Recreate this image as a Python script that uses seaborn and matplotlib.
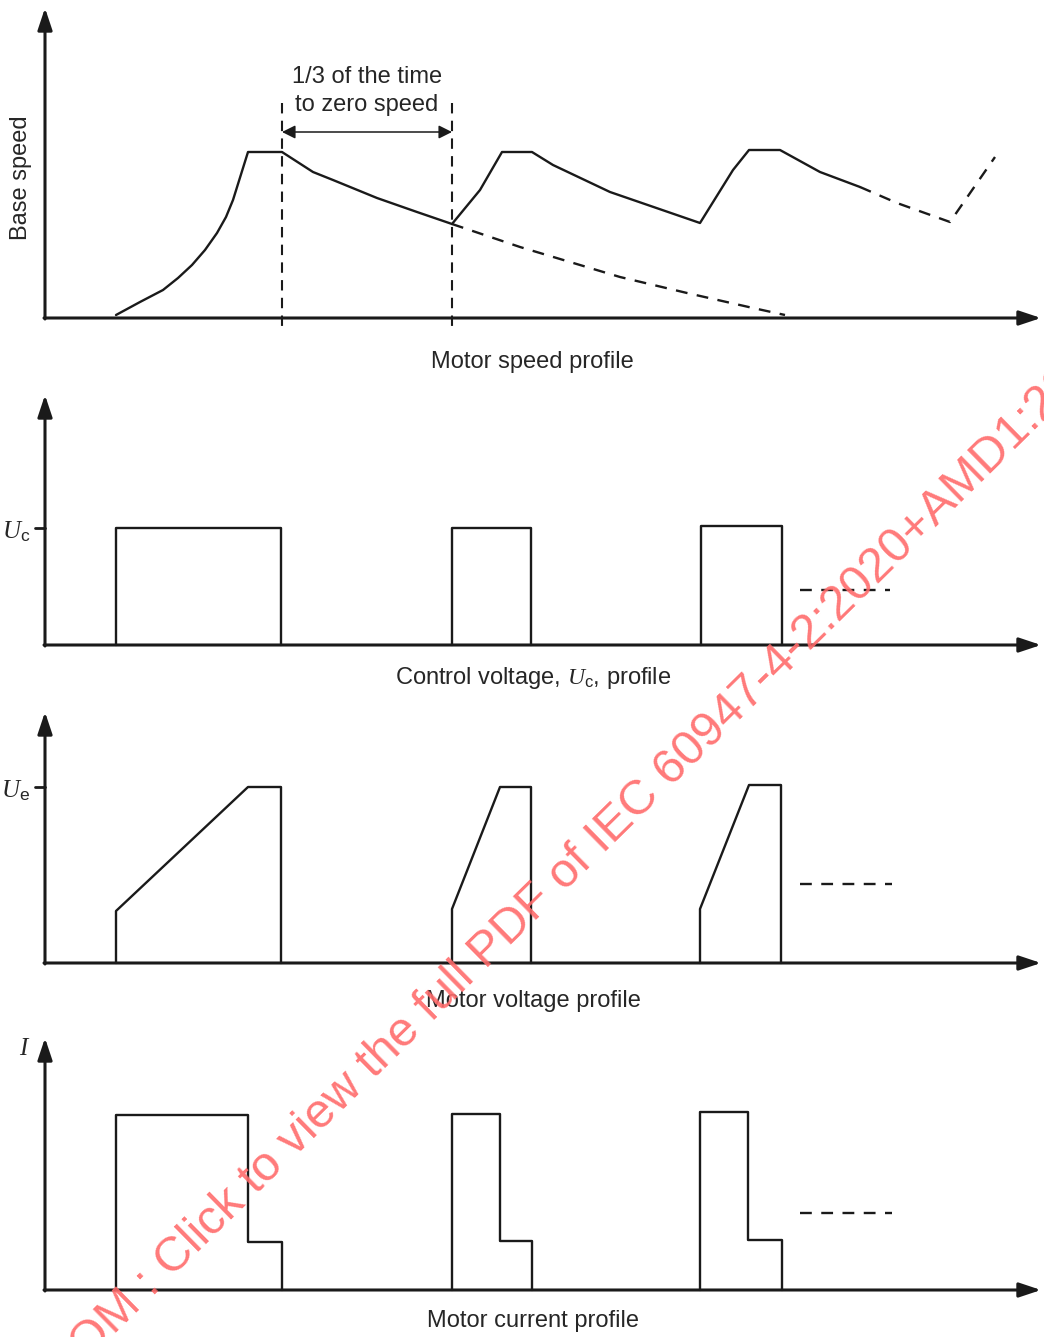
import matplotlib.pyplot as plt
import seaborn as sns

# time axis in arbitrary units (0 = origin), levels in arbitrary units (0 = baseline)
# --- motor speed profile ---
speed_t = [71, 95, 118, 133, 147, 160, 172, 181, 188, 203, 237, 268, 288, 332,
           372, 407, 435, 457, 487, 508, 565, 655, 688, 704, 735, 775, 815]
speed_v = [3, 16, 28, 40, 53, 68, 85, 101, 118, 166, 166, 146, 138, 120,
           106, 94, 128, 166, 166, 153, 126, 95, 148, 168, 168, 146, 131]
speed_tail_t = [815, 852, 905, 950]
speed_tail_v = [131, 115, 96, 161]
coast_t = [407, 475, 575, 642, 708, 740]
coast_v = [94, 71, 41, 25, 10, 3]
marker_t = [237, 407]

# --- control voltage ---
uc_pulses = [
    ([71, 71, 236, 236], [0, 117, 117, 0]),
    ([407, 407, 486, 486], [0, 117, 117, 0]),
    ([656, 656, 737, 737], [0, 119, 119, 0]),
]
uc_level = 117
uc_cont = ([755, 845], [55, 55])

# --- motor voltage ---
ue_pulses = [
    ([71, 71, 203, 236, 236], [0, 52, 176, 176, 0]),
    ([407, 407, 455, 486, 486], [0, 54, 176, 176, 0]),
    ([655, 655, 704, 736, 736], [0, 54, 178, 178, 0]),
]
ue_level = 176
ue_cont = ([755, 847], [79, 79])

# --- motor current ---
i_pulses = [
    ([71, 71, 203, 203, 237, 237], [0, 175, 175, 48, 48, 0]),
    ([407, 407, 455, 455, 487, 487], [0, 176, 176, 49, 49, 0]),
    ([655, 655, 703, 703, 737, 737], [0, 178, 178, 50, 50, 0]),
]
i_cont = ([755, 847], [77, 77])

sns.set_theme(style="white")
plt.rcParams["font.family"] = ["Liberation Sans", "DejaVu Sans"]
plt.rcParams["mathtext.fontset"] = "custom"
plt.rcParams["mathtext.it"] = "Liberation Serif:italic"
plt.rcParams["mathtext.rm"] = "Liberation Sans"

W, H = 1044, 1337
fig = plt.figure(figsize=(W / 100, H / 100), dpi=100)
LW = 1.7
FS = 17


def make_axes(top, bottom, base):
    ax = fig.add_axes([0, 1 - bottom / H, 1, (bottom - top) / H])
    ax.set_xlim(-45, W - 45)
    ax.set_ylim(base - bottom, base - top)
    ax.axis("off")
    return ax


def draw_axes(ax, ytop):
    arrow = dict(arrowstyle="-|>,head_length=0.6,head_width=0.2", lw=2.2,
                 color="k", mutation_scale=22, shrinkA=0, shrinkB=0)
    ax.annotate("", xy=(0, ytop), xytext=(0, -1), arrowprops=arrow)
    ax.annotate("", xy=(996, 0), xytext=(-1, 0), arrowprops=arrow)


def solid(ax, x, y, lw=LW):
    sns.lineplot(x=x, y=y, ax=ax, sort=False, estimator=None, color="k",
                 lw=lw, legend=False)


def dashed(ax, x, y, lw=LW, dash=(5, 4)):
    sns.lineplot(x=x, y=y, ax=ax, sort=False, estimator=None, color="k",
                 lw=lw, linestyle=(0, dash), legend=False)


# panel 1
ax1 = make_axes(0, 380, 318)
draw_axes(ax1, 310)
solid(ax1, speed_t, speed_v)
dashed(ax1, speed_tail_t, speed_tail_v)
dashed(ax1, coast_t, coast_v)
for t in marker_t:
    dashed(ax1, [t, t], [215, -13], lw=1.5, dash=(5, 3.5))
ax1.annotate("", xy=(marker_t[1], 186), xytext=(marker_t[0], 186),
             arrowprops=dict(arrowstyle="<|-|>", lw=1.1, color="k",
                             mutation_scale=20, shrinkA=0, shrinkB=0))
ax1.text(322, 241, "1/3 of the time", ha="center", va="center", fontsize=FS)
ax1.text(322, 213, "to zero speed", ha="center", va="center", fontsize=FS)
ax1.text(-24, 140, "Base speed", rotation=90, ha="center", va="center", fontsize=FS)
ax1.text(487, -44, "Motor speed profile", ha="center", va="center", fontsize=FS)

# panel 2
ax2 = make_axes(380, 700, 645)
draw_axes(ax2, 250)
for x, y in uc_pulses:
    solid(ax2, x, y)
dashed(ax2, *uc_cont)
solid(ax2, [-10, 0], [uc_level, uc_level], lw=2)
ax2.text(-15, uc_level - 4, r"$U_\mathrm{c}$", ha="right", va="center", fontsize=18)
ax2.text(488, -33, r"Control voltage, $U_\mathrm{c}$, profile", ha="center",
         va="center", fontsize=FS)

# panel 3
ax3 = make_axes(700, 1020, 963)
draw_axes(ax3, 251)
for x, y in ue_pulses:
    solid(ax3, x, y)
dashed(ax3, *ue_cont)
solid(ax3, [-10, 0], [ue_level, ue_level], lw=2)
ax3.text(-15, ue_level - 4, r"$U_\mathrm{e}$", ha="right", va="center", fontsize=18)
ax3.text(488, -38, "Motor voltage profile", ha="center", va="center", fontsize=FS)

# panel 4
ax4 = make_axes(1020, 1337, 1290)
draw_axes(ax4, 252)
for x, y in i_pulses:
    solid(ax4, x, y)
dashed(ax4, *i_cont)
ax4.text(-20, 242, r"$I$", ha="center", va="center", fontsize=18)
ax4.text(488, -31, "Motor current profile", ha="center", va="center", fontsize=FS)

# watermark
fig.text(535 / W, 1 - 903 / H,
         "IECNORM.COM : Click to view the full PDF of IEC 60947-4-2:2020+AMD1:2024 CSV",
         color="#ff6b6b", alpha=0.9, fontsize=35, rotation=44.5,
         rotation_mode="anchor", ha="center", va="center", zorder=10)

fig.savefig("out.png", dpi=100)
